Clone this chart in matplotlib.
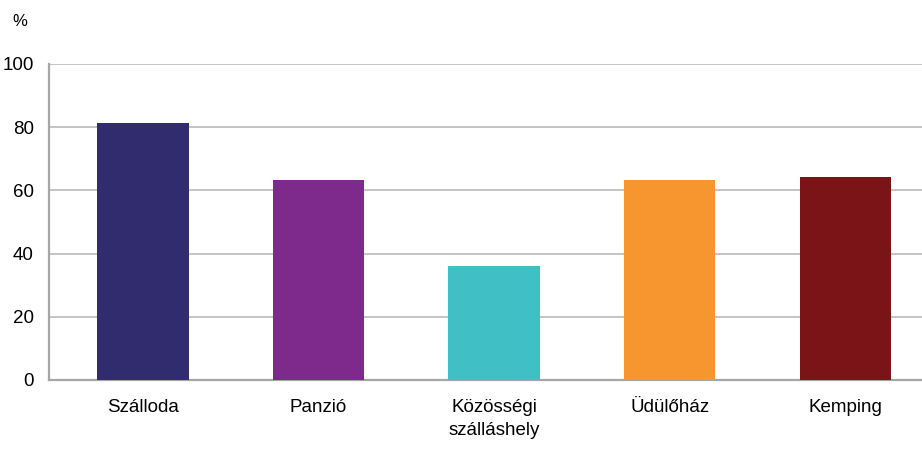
import matplotlib
matplotlib.use('Agg')
import matplotlib.pyplot as plt

# data
categories = ['Szálloda', 'Panzió', 'Közösségi\nszálláshely', 'Üdülőház', 'Kemping']
values = [81.3, 63.3, 36.1, 63.3, 64.2]
colors = ['#312C6E', '#7D2A8C', '#40C0C4', '#F7952F', '#7A1416']
yticks = [0, 20, 40, 60, 80, 100]

plt.rcParams['font.family'] = ['Liberation Sans', 'DejaVu Sans']

W, H = 922, 453
fig = plt.figure(figsize=(W / 100, H / 100), dpi=100)
ax = fig.add_axes([49 / W, 1 - 380 / H, (933 - 49) / W, (380 - 64) / H])

x = list(range(len(categories)))
ax.bar(x, values, width=0.52, color=colors, zorder=3)

ax.set_ylim(0, 100)
ax.set_xlim(-0.535, 4.5)
ax.set_yticks(yticks)
ax.set_xticks(x)
ax.set_xticklabels(categories, fontsize=13.5, linespacing=1.45)
ax.tick_params(axis='y', labelsize=13.5, length=0, pad=11)
ax.tick_params(axis='x', length=0, pad=14)
ax.yaxis.grid(True, color='#BFBFBF', linewidth=1.3, zorder=0)

for s in ['top', 'right']:
    ax.spines[s].set_visible(False)
for s in ['left', 'bottom']:
    ax.spines[s].set_color('#A6A6A6')
    ax.spines[s].set_linewidth(1.6)

fig.text(12 / W, 1 - 22 / H, '%', fontsize=12, va='center', ha='left')

fig.savefig('out.png', dpi=100)
